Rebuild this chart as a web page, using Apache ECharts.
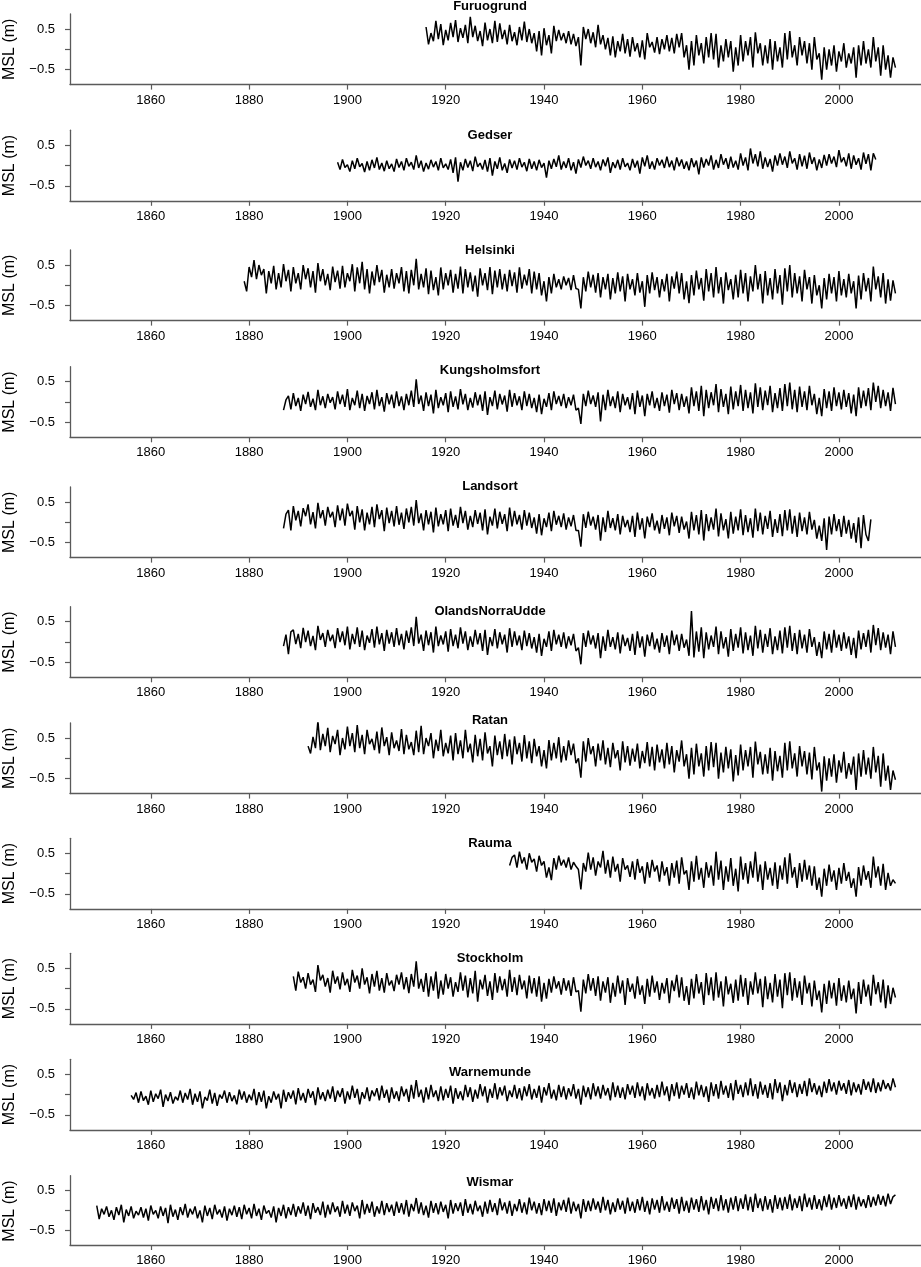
<!DOCTYPE html>
<html>
<head>
<meta charset="utf-8">
<title>MSL</title>
<script src="https://cdn.jsdelivr.net/npm/echarts@6/dist/echarts.min.js"></script>
<style>
html, body { margin: 0; padding: 0; background: #fff; }
#chart { width: 921px; height: 1267px; }
</style>
</head>
<body>
<div id="chart"></div>
<script>
// station names, first year of each record
var stations = ['Furuogrund', 'Gedser', 'Helsinki', 'Kungsholmsfort', 'Landsort', 'OlandsNorraUdde',
	'Ratan', 'Rauma', 'Stockholm', 'Warnemunde', 'Wismar'];
var startYears = [1916, 1898, 1879, 1887, 1887, 1887, 1892, 1933, 1889, 1856, 1849];

// tick values
var xTicks = [1860, 1880, 1900, 1920, 1940, 1960, 1980, 2000];
var yTicks = [-0.5, 0, 0.5];
var yLabels = [-0.5, 0.5];

// MSL in cm, two readings a year (winter, summer)
var furuogrund = [
	55,12, 40,20, 70,25, 62,10, 48,22, 65,30, 72,18, 52,28, 60,15, 80,30,
	58,20, 45,8, 66,22, 50,15, 70,18, 64,25, 48,12, 60,20, 42,10, 55,22,
	68,18, 50,15, 40,-5, 45,-15, 52,10, 35,-10, 58,20, 48,22, 40,15, 45,12,
	38,8, 30,-40, 55,25, 50,15, 42,5, 60,12, 35,0, 28,-15, 32,-20, 20,-5,
	38,-10, 25,-18, 30,-5, 15,-20, 22,-25, 40,5, 18,-8, 30,-12, 25,0, 35,-5,
	28,-10, 38,5, 40,-20, 10,-50, 20,-40, 35,-15, 15,-35, 30,-20, 40,-25, 38,-45,
	10,-30, 25,-20, 20,-55, 5,-40, 35,-30, 20,-15, 30,-45, 42,-10, 15,-40, 10,-35,
	25,-50, 20,-30, 5,-45, 40,-25, 45,-20, 10,-40, 30,-15, 20,-35, 15,-50, 30,-25,
	-10,-75, 5,-50, 0,-40, 10,-55, -5,-30, 15,-45, -10,-35, 5,-70, 10,-40, 20,-35,
	0,-45, 30,-30, 5,-65, 10,-50, -15,-70, -20,-45
];
var gedser = [
	8,-10, 15,-5, 2,-15, 12,-8, 18,-3, 5,-16, 10,-12, 14,-6, 20,-10, 6,-14,
	12,-8, 4,-15, 16,-5, 10,-12, 18,-2, 8,-10, 25,-6, 12,-15, 6,-9, 14,-4,
	10,-12, 18,-6, 4,-10, 15,-18, 20,-40, 8,-12, 16,-5, 12,-14, 22,-3, 6,-10,
	14,-15, 18,-25, 10,-8, 20,-12, 5,-18, 15,-6, 12,-10, 18,-4, 8,-14, 16,-8,
	10,-12, 14,-5, 6,-30, 12,-8, 16,-3, 25,-10, 10,-6, 18,-12, 8,-20, 15,-5,
	22,0, 12,-8, 18,-4, 10,-12, 15,-2, 20,-18, 8,-6, 14,-10, 18,-3, 6,-12,
	16,-5, 12,-20, 20,-2, 25,-8, 10,-10, 18,0, 14,-6, 22,-4, 12,-12, 20,-2,
	15,-8, 10,-12, 18,-4, 12,-22, 20,-5, 16,0, 25,-10, 14,-6, 28,2, 18,-8,
	22,-5, 12,-10, 30,0, 20,-12, 42,5, 28,-2, 35,-8, 20,-4, 16,-15, 25,0,
	30,2, 22,-6, 35,5, 18,-10, 28,-2, 24,-8, 32,4, 20,-12, 15,-6, 26,0,
	28,5, 22,-4, 38,8, 20,-2, 30,-8, 25,2, 18,-10, 32,4, 28,-12, 30,15
];
var helsinki = [
	10,-15, 45,20, 62,15, 50,25, 40,-20, 35,5, 48,-10, 30,-5, 52,10, 38,-15,
	45,5, 30,-10, 50,15, 42,-5, 35,-18, 55,10, 40,0, 28,-12, 46,8, 36,-8,
	48,-5, 30,10, 52,-15, 44,5, 58,-10, 40,-20, 34,0, 50,8, 38,-18, 26,-5,
	40,-8, 30,5, 45,-15, 35,-20, 38,0, 65,-10, 28,-5, 42,-22, 36,-12, 20,-25,
	44,-10, 30,0, 38,-18, 28,-8, 46,-20, 40,-5, 32,-15, 24,-28, 42,0, 30,-12,
	45,-22, 36,-5, 40,-10, 28,-15, 38,-2, 32,-18, 44,-8, 26,0, 40,-20, 34,-10,
	30,-25, 10,-40, 20,-20, 28,-5, 15,-10, 22,0, 18,-12, 25,-8, -10,-57, 20,-15,
	34,-5, 26,-18, 30,-30, 20,-10, 28,-35, 18,-20, 32,-15, 22,-40, 28,-10, 15,-25,
	30,-18, 10,-53, 25,-20, 32,-12, 20,-30, 15,-15, 28,-40, 22,-8, 34,-20, 30,-35,
	10,-44, 25,-25, 36,-10, 18,-38, 40,-15, 30,-30, 45,-20, 20,-45, 32,-12, 15,-35,
	26,-30, 38,-20, 30,-40, 22,-15, 50,-10, 28,-45, 35,-25, 18,-35, 40,-20, 25,-48,
	42,-15, 50,-30, 30,-20, 22,-40, 38,-10, 20,-45, 25,-25, 0,-57, 18,-35, 28,-20,
	20,-40, 35,-25, 15,-30, 28,-20, 10,-57, 24,-35, 30,-15, 18,-40, 46,-10, 22,-30,
	30,-45, 15,-38, 12,-20
];
var kungsholmsfort = [
	-20,5, 15,-18, 22,-10, 10,-22, 18,-5, 25,-12, 8,-20, 30,-8, 14,-15, 20,-2,
	12,-18, 26,-5, 18,-12, 32,-20, 10,-8, 28,-15, 20,-22, 15,-5, 24,-18, 30,-10,
	12,-24, 22,-6, 18,-15, 26,-10, 14,-20, 20,-8, 28,-12, 56,-5, 16,-22, 24,-10,
	18,-28, 30,-15, 12,-8, 22,-25, 26,-12, 14,-18, 32,-6, 20,-20, 10,-14, 24,-8,
	18,-22, 26,-32, 12,-10, 28,-18, 20,-6, 16,-24, 30,-12, 22,-8, 14,-20, 26,-10,
	20,-15, 10,-25, 18,-30, 8,-12, 22,-20, 26,-5, 15,-10, 20,-15, 12,-8, 18,-20,
	-15,-54, 20,-10, 28,-5, 16,-12, 24,-48, 18,-20, 30,-10, 14,-15, 26,-25, 20,-8,
	12,-18, 22,-30, 28,-12, 16,-35, 20,-8, 26,-15, 10,-22, 24,-10, 18,-26, 30,-5,
	22,-20, 20,-12, 14,-28, 36,-10, 26,-22, 40,-35, 30,-15, 24,-8, 44,-25, 32,-12,
	20,-30, 38,-18, 26,-10, 42,-22, 30,-15, 24,-28, 46,-12, 36,-20, 28,-8, 40,-25,
	22,-15, 34,-22, 44,-10, 48,-18, 30,-25, 38,-12, 26,-20, 40,-8, 20,-30, 10,-35,
	32,-15, 26,-22, 36,-10, 24,-18, 30,-12, 22,-28, 18,-35, 36,-15, 28,-10, 34,-20,
	48,0, 40,-15, 30,-10, 24,-22, 35,-5
];
var landsort = [
	-15,20, 30,-20, 40,5, 28,-10, 35,15, 44,-5, 25,-15, 48,10, 30,-8, 38,12,
	26,-12, 42,5, 34,-8, 46,15, 28,-18, 40,0, 32,-20, 24,-5, 38,-12, 44,8,
	30,-22, 36,-2, 28,-10, 40,-6, 24,-16, 34,0, 38,-8, 55,-2, 22,-20, 30,-5,
	26,-25, 36,-10, 20,-5, 30,-22, 34,-8, 18,-14, 38,-2, 28,-18, 16,-12, 30,-4,
	24,-20, 32,-30, 14,-8, 34,-15, 26,-4, 20,-22, 36,-10, 28,-5, 18,-18, 30,-8,
	24,-14, 12,-28, 20,-32, 10,-12, 24,-22, 28,-6, 16,-12, 22,-18, 12,-10, 18,-20,
	-20,-60, 20,-14, 26,-8, 14,-18, 18,-45, 12,-24, 28,-14, 10,-20, 20,-30, 16,-12,
	6,-24, 16,-36, 24,-18, 10,-40, 14,-12, 22,-20, 4,-28, 18,-16, 12,-32, 24,-10,
	16,-26, 14,-18, 2,-40, 26,-20, 18,-30, 30,-45, 20,-22, 12,-18, 34,-35, 22,-20,
	8,-40, 26,-28, 14,-20, 32,-32, 18,-24, 10,-38, 34,-22, 24,-30, 16,-16, 28,-36,
	8,-26, 20,-34, 30,-20, 32,-28, 16,-36, 24,-22, 12,-30, 26,-18, 6,-40, -8,-46,
	10,-68, 14,-30, 20,-22, 8,-36, 16,-28, 6,-40, -2,-50, 12,-64, 18,-30, -46,7
];
var olands = [
	-10,18, -30,25, 30,-5, 20,-15, 35,0, 28,-10, 15,-20, 40,5, 22,-12, 30,2,
	18,-15, 34,0, 26,-8, 38,-18, 20,-5, 36,-12, 28,-20, 16,-2, 32,-14, 38,-6,
	22,-22, 30,-4, 24,-12, 34,-8, 20,-18, 28,-2, 36,-10, 62,-4, 18,-22, 28,-8,
	24,-26, 38,-10, 16,-6, 26,-24, 32,-10, 18,-16, 36,-4, 26,-20, 14,-12, 30,-6,
	22,-22, 30,-32, 12,-10, 32,-16, 24,-6, 18,-26, 34,-12, 26,-8, 16,-20, 28,-10,
	22,-16, 12,-26, 20,-34, 8,-12, 26,-22, 30,-6, 18,-12, 24,-16, 14,-8, 20,-22,
	-14,-55, 22,-12, 28,-6, 16,-16, 22,-40, 14,-22, 30,-12, 12,-18, 24,-28, 18,-10,
	10,-22, 20,-32, 26,-14, 14,-36, 18,-10, 24,-18, 8,-26, 22,-12, 16,-30, 28,-8,
	18,-22, 20,-14, 6,-34, 76,-38, 26,-24, 36,-40, 24,-18, 16,-12, 38,-30, 26,-16,
	12,-36, 32,-22, 20,-14, 36,-28, 24,-20, 16,-34, 40,-16, 30,-26, 20,-12, 34,-30,
	14,-20, 28,-28, 36,-14, 40,-22, 22,-30, 30,-16, 18,-26, 32,-12, 12,-34, 0,-40,
	26,-18, 20,-26, 30,-14, 18,-22, 24,-16, 14,-32, 10,-40, 28,-18, 22,-12, 30,-26,
	42,-8, 34,-20, 24,-14, 18,-30, 26,-12
];
var ratan = [
	30,12, 53,25, 92,20, 60,30, 75,15, 55,35, 70,8, 50,22, 78,30, 62,15,
	82,25, 58,10, 70,35, 48,20, 66,12, 76,30, 52,8, 64,25, 44,18, 72,10,
	58,22, 40,8, 68,15, 80,10, 50,30, 62,0, 46,18, 70,5, 38,12, 56,-5,
	62,10, 44,0, 70,15, 36,-10, 58,5, 48,-5, 64,12, 30,-20, 56,8, 42,-2,
	60,5, 46,-15, 54,10, 38,-8, 57,0, 42,-12, 48,5, 30,-20, 20,-25, 45,-5,
	38,0, 52,-10, 30,-5, 44,8, 36,-12, 0,-48, 42,-8, 50,10, 30,-20, 36,-5,
	44,-15, 26,-22, 38,0, 20,-30, 42,-10, 30,-18, 24,-8, 36,-25, 18,-12, 40,-20,
	28,-30, 34,-10, 22,-25, 38,-15, 30,-35, 20,-8, 44,-20, 10,-50, 26,-40, 36,-20,
	12,-45, 30,-30, 40,-22, 38,-50, 14,-35, 28,-25, 22,-57, 8,-42, 34,-30, 20,-20,
	28,-48, 41,-15, 16,-40, 10,-38, 26,-55, 18,-32, 6,-48, 38,-30, 42,-25, 12,-45,
	30,-20, 18,-40, 14,-52, 28,-30, -10,-82, 5,-55, 0,-45, 10,-60, -5,-35, 16,-50,
	-12,-40, 4,-78, 12,-45, 20,-40, 2,-50, 28,-35, 6,-70, 12,-55, -18,-78, -30,-53
];
var rauma = [
	20,40, 46,15, 54,25, 40,10, 50,28, 36,5, 44,20, 30,-10, 15,-16, 38,10,
	44,20, 34,15, 40,10, 28,18, 10,-39, 26,5, 52,10, 40,-5, 30,15, 56,0,
	34,-10, 42,5, 24,-20, 38,10, 20,-8, 30,-15, 36,2, 18,-25, 28,-10, 34,5,
	20,-20, 30,-5, 16,-30, 26,-10, 32,-25, 40,-2, 8,-40, 30,-20, 44,-15, 14,-35,
	28,-10, 20,-30, 54,-15, 32,-40, 18,-20, 38,-30, 12,-44, 42,-15, 26,-25, 30,-10,
	54,-20, 22,-40, 30,-15, 14,-30, 28,-38, 20,-15, 40,-25, 50,-10, 16,-35, 26,-20,
	34,-15, 20,-30, 18,-40, -10,-57, 12,-30, 22,-20, 8,-40, 14,-25, 26,-18, 4,-35,
	-12,-57, 16,-30, 20,-15, 6,-35, 42,-10, 18,-30, 24,-40, 2,-30, -15,-24
];
var stockholm = [
	30,-5, 42,15, 28,0, 38,10, 22,-8, 58,20, 34,5, 26,-10, 44,12, 30,-2,
	40,8, 24,-8, 46,15, 32,0, 50,10, 28,-12, 36,5, 44,-5, 26,-10, 38,8,
	20,-6, 34,10, 40,-2, 28,-11, 36,5, 67,0, 24,-8, 38,-20, 30,-5, 42,-25,
	20,-15, 36,0, 28,-20, 16,-8, 40,-5, 32,-22, 26,-12, 44,-32, 22,-2, 34,-18,
	18,-28, 38,-10, 30,-4, 24,-20, 46,-8, 28,-16, 34,-2, 20,-24, 32,-12, 26,-20,
	30,-32, 14,-25, 24,-10, 30,0, 18,-15, 26,-5, 20,-18, 28,-8, -5,-57, 22,-12,
	36,-5, 26,-18, 30,-30, 18,-10, 28,-35, 14,-20, 32,-12, 20,-40, 26,-8, 12,-25,
	30,-15, 8,-38, 24,-20, 32,-10, 18,-28, 14,-12, 26,-36, 20,-6, 34,-22, 28,-30,
	6,-40, 24,-24, 36,-12, 16,-40, 38,-16, 28,-30, 40,-22, 18,-44, 30,-14, 12,-35,
	22,-30, 34,-20, 26,-40, 18,-15, 40,-12, 24,-46, 30,-26, 14,-34, 36,-20, 22,-48,
	38,-16, 40,-30, 26,-22, 18,-40, 32,-12, 14,-44, 20,-28, -5,-59, 12,-38, 20,-24,
	14,-42, 26,-30, 8,-34, 20,-26, 0,-61, 16,-38, 22,-20, 10,-42, 34,-14, 16,-34,
	22,-48, 8,-38, 2,-22
];
var warnemunde = [
	-2,-12, 5,-20, 8,-15, -4,-25, 10,-18, 2,-10, 12,-30, 0,-16, 6,-22, -5,-14,
	10,-20, 4,-12, 14,-25, 2,-18, 8,-34, -6,-15, 12,-22, 4,-28, 0,-10, 10,-20,
	6,-16, -2,-24, 12,-12, 8,-20, 0,-14, 14,-26, 6,-18, 10,-34, -4,-20, 8,-12,
	2,-34, 12,-18, 6,-10, 10,-24, 16,-14, 4,-20, 14,-8, 8,-26, 18,-12, 6,-16,
	12,-10, 20,-18, 10,-6, 16,-22, 8,-12, 22,-8, 14,-24, 6,-10, 18,-16, 10,-4,
	16,-14, 22,-8, 12,-20, 18,-10, 8,-16, 20,-4, 14,-18, 24,-10, 36,-6, 12,-20,
	18,-12, 24,-6, 10,-16, 20,-14, 14,-8, 22,-22, 16,-10, 8,-14, 24,-6, 18,-18,
	12,-10, 26,-4, 20,-20, 14,-8, 28,-12, 18,-2, 22,-16, 10,-6, 24,-10, 16,-14,
	20,-4, 26,-12, 14,-8, 22,-20, 18,-2, 28,-10, 12,-14, 24,-6, 20,-12, 16,-4,
	26,-10, 14,-25, 22,-6, 18,-12, 28,-4, 20,-10, 24,-2, 16,-14, 30,-6, 22,-8,
	18,-12, 26,0, 22,-8, 30,-4, 20,-14, 28,-2, 16,-10, 24,-6, 32,-2, 20,-16,
	26,-4, 30,-10, 22,0, 28,-8, 18,-12, 32,-2, 24,-6, 20,-18, 30,-4, 26,-10,
	34,0, 22,-8, 28,-14, 36,2, 24,-6, 30,-2, 40,-4, 26,-10, 32,0, 24,-8,
	28,-12, 38,4, 30,-16, 24,-2, 36,4, 30,-6, 26,2, 34,-4, 40,6, 28,0,
	22,-6, 32,4, 38,8, 30,0, 34,10, 28,2, 36,-2, 30,6, 26,0, 38,12,
	32,6, 40,4, 30,8, 36,14, 28,10, 40,18
];
var wismar = [
	12,-22, 4,-10, 10,-16, 0,-24, 8,-12, 14,-30, 2,-14, 10,-20, -2,-12, 8,-18,
	4,-26, 12,-10, 0,-20, 10,-14, 6,-32, 14,-16, 2,-24, 8,-12, 16,-18, 4,-10,
	10,-20, 0,-30, 12,-14, 6,-22, 14,-10, 2,-18, 10,-26, 4,-12, 12,-16, 8,-22,
	14,-10, 6,-20, 16,-14, 4,-24, 12,-8, 0,-18, 10,-30, 6,-14, 14,-20, 8,-12,
	16,-16, 10,-8, 20,-14, 12,-22, 18,-6, 8,-12, 22,-18, 14,-10, 20,-4, 10,-16,
	24,-8, 14,-14, 20,-2, 12,-20, 26,-10, 16,-6, 22,-16, 10,-8, 24,-12, 18,-4,
	14,-14, 22,-6, 18,-10, 26,-16, 16,-2, 31,-8, 20,-12, 12,-18, 24,-6, 18,-10,
	22,-4, 14,-20, 26,-8, 18,-2, 20,-14, 28,-6, 16,-10, 24,-2, 12,-16, 22,-8,
	26,-4, 18,-12, 30,0, 20,-8, 24,-14, 16,-2, 28,-6, 20,-10, 32,0, 22,-8,
	18,-12, 28,-2, 24,-6, 30,-14, 20,0, 26,-4, 32,-8, 22,-2, 16,-20, 28,-4,
	24,-2, 30,2, 22,-6, 34,0, 26,-10, 20,-4, 30,2, 24,-8, 32,-2, 22,-6,
	28,0, 34,-4, 24,-10, 30,2, 26,-6, 36,0, 22,-4, 32,4, 28,-8, 34,-2,
	24,-6, 32,2, 28,-4, 36,0, 26,-10, 34,4, 30,-2, 38,0, 28,-6, 32,2,
	36,-2, 30,4, 40,0, 34,-4, 42,6, 30,-2, 36,2, 28,-6, 38,4, 32,0,
	34,4, 40,0, 30,6, 36,-2, 42,8, 32,2, 38,4, 28,0, 36,8, 40,2,
	32,6, 38,10, 30,4, 36,8, 40,2, 34,10, 28,6, 38,8, 34,12, 40,14,
	36,10, 42,16, 34,39
];
var msl = [furuogrund, gedser, helsinki, kungsholmsfort, landsort, olands,
	ratan, rauma, stockholm, warnemunde, wismar];

// layout (px)
var tickTop = [29, 145.2, 265, 381.7, 502, 621.7, 738, 853.3, 968.3, 1074.3, 1190.7]; // y of the 0.5 tick
var titleTop = [6, 135.5, 250.8, 370.5, 486.8, 611.8, 720.8, 843.8, 958.2, 1072.5, 1182.5];
var plotLeft = 70, plotWidth = 851, plotHeight = 70.6;
var xMin = 1843.56, xMax = 2016.7;
var yMin = -0.87, yMax = 0.87;

var font = 'Liberation Sans, Arial, Helvetica, sans-serif';
var axisColor = '#5a5a5a';

var chart = echarts.init(document.getElementById('chart'), null, {renderer: 'canvas'});

var grids = [], xAxes = [], yAxes = [], series = [], graphics = [];
for (var i = 0; i < stations.length; i++) {
	grids.push({left: plotLeft, top: tickTop[i] - 15, width: plotWidth, height: plotHeight});
	xAxes.push({
		type: 'value', gridIndex: i, min: xMin, max: xMax,
		splitLine: {show: false},
		axisLine: {show: true, onZero: false, lineStyle: {color: axisColor, width: 1.3}},
		axisTick: {show: true, length: 5, customValues: xTicks, lineStyle: {color: axisColor, width: 1.2}},
		axisLabel: {
			customValues: xTicks, margin: 9, fontSize: 13, color: '#000', fontFamily: font,
			formatter: function(v){ return String(Math.round(v)); }
		}
	});
	yAxes.push({
		type: 'value', gridIndex: i, min: yMin, max: yMax,
		splitLine: {show: false},
		axisLine: {show: true, onZero: false, lineStyle: {color: axisColor, width: 1.3}},
		axisTick: {show: true, length: 5, customValues: yTicks, lineStyle: {color: axisColor, width: 1.2}},
		axisLabel: {
			customValues: yLabels, margin: 15, fontSize: 13, color: '#000', fontFamily: font,
			formatter: function(v){ return v < 0 ? '\u2212' + Math.abs(v).toFixed(1) : v.toFixed(1); }
		}
	});
	var pts = [];
	for (var k = 0; k < msl[i].length; k++) {
		pts.push([startYears[i] + k * 0.5, msl[i][k] / 100]);
	}
	series.push({
		name: stations[i], type: 'line', xAxisIndex: i, yAxisIndex: i,
		data: pts, showSymbol: false, symbol: 'none', silent: true,
		lineStyle: {color: '#000', width: 1.5}
	});
	// station title
	graphics.push({
		type: 'text', x: 490, y: titleTop[i], silent: true,
		style: {text: stations[i], fill: '#000', font: 'bold 13px ' + font, align: 'center', verticalAlign: 'middle'}
	});
	// y axis name
	graphics.push({
		type: 'text', x: 10, y: tickTop[i] + 20.3, rotation: Math.PI / 2, silent: true,
		style: {text: 'MSL (m)', fill: '#000', font: '16px ' + font, align: 'center', verticalAlign: 'middle'}
	});
}

chart.setOption({
	animation: false,
	backgroundColor: '#fff',
	grid: grids,
	xAxis: xAxes,
	yAxis: yAxes,
	series: series,
	graphic: graphics
});
</script>
</body>
</html>
